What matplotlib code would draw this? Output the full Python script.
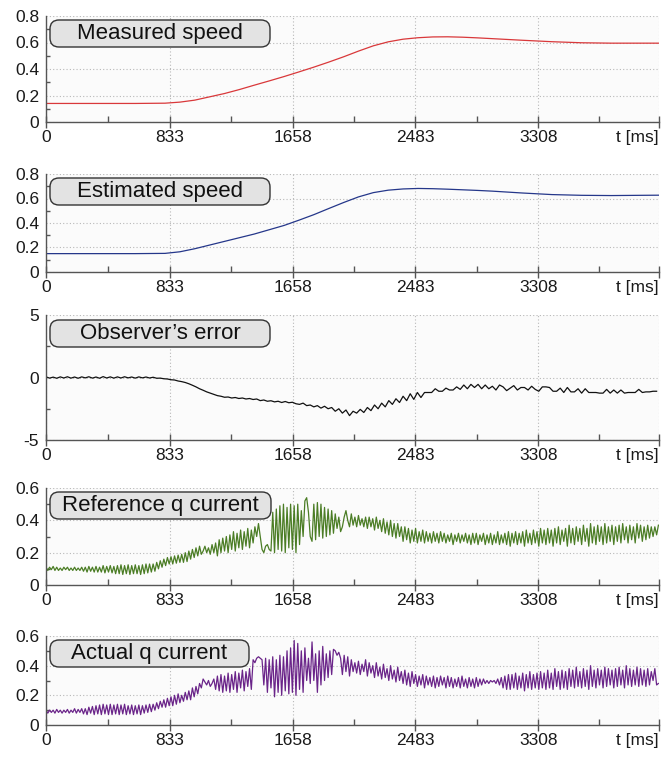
import numpy as np
import matplotlib
matplotlib.use("Agg")
import matplotlib.pyplot as plt
from matplotlib.patches import FancyBboxPatch
from matplotlib.transforms import IdentityTransform

# speeds, read every ~100-200 ms
speed_t = [0, 200, 400, 600, 800, 900, 1000, 1100, 1200, 1300, 1400, 1500, 1600,
           1700, 1800, 1900, 2000, 2100, 2200, 2300, 2400, 2500, 2600, 2700, 2800,
           2900, 3000, 3200, 3400, 3600, 3800, 4000, 4120]
measured_speed = [0.14, 0.14, 0.14, 0.14, 0.142, 0.15, 0.165, 0.19, 0.215, 0.245, 0.278,
                  0.31, 0.343, 0.378, 0.414, 0.452, 0.492, 0.535, 0.575, 0.605, 0.625, 0.636,
                  0.642, 0.643, 0.64, 0.635, 0.629, 0.617, 0.606, 0.598, 0.595, 0.595, 0.595]
estimated_speed = [0.15, 0.15, 0.15, 0.15, 0.152, 0.165, 0.19, 0.22, 0.25, 0.28, 0.31,
                   0.345, 0.38, 0.423, 0.468, 0.518, 0.567, 0.613, 0.648, 0.668, 0.678, 0.682,
                   0.68, 0.676, 0.671, 0.666, 0.66, 0.645, 0.632, 0.626, 0.624, 0.626, 0.627]

# observer error, one value every 24 ms
error_dt = 24
observer_error = [
    0.05, -0.05, 0.03, -0.06, 0.05, -0.04, 0.06, -0.05, 0.04, -0.06, 0.05, -0.03, 0.06, -0.05, 0.04, -0.06, 0.07, -0.04, 0.05, -0.05,
    0.05, -0.04, 0.06, -0.03, 0.04, -0.05, 0.05, -0.03, 0.04, -0.04, 0.02, -0.06, -0.05, -0.1, -0.12, -0.18, -0.2, -0.28, -0.33, -0.4,
    -0.5, -0.62, -0.75, -0.9, -1.02, -1.15, -1.25, -1.35, -1.45, -1.5, -1.58, -1.56, -1.64, -1.6, -1.68, -1.64, -1.72, -1.68, -1.76, -1.72,
    -1.85, -1.8, -1.9, -1.86, -1.95, -1.9, -2.0, -1.92, -2.02, -1.98, -2.1, -2.15, -2.05, -2.25, -2.2, -2.35, -2.25, -2.45, -2.3, -2.5,
    -2.4, -2.7, -2.5, -2.85, -2.6, -3.05, -2.7, -2.85, -2.55, -2.8, -2.4, -2.65, -2.2, -2.5, -2.05, -2.35, -1.85, -2.15, -1.7, -2.0,
    -1.5, -1.85, -1.3, -1.75, -1.2, -1.6, -1.2, -1.2, -1.2, -0.9, -1.1, -1.1, -0.85, -1.0, -1.0, -0.75, -0.95, -0.6, -0.9, -0.55,
    -0.8, -0.55, -0.9, -0.6, -0.9, -0.7, -1.0, -0.6, -0.75, -1.05, -0.85, -0.65, -1.0, -0.8, -0.8, -1.0, -0.7, -0.95, -1.1, -0.75,
    -0.75, -0.8, -1.1, -1.1, -0.85, -1.2, -0.8, -1.15, -1.15, -0.9, -1.25, -0.9, -1.2, -1.2, -1.2, -1.25, -1.25, -0.95, -1.25, -1.0,
    -1.25, -1.0, -1.25, -1.2, -1.2, -1.2, -0.95, -1.2, -1.15, -1.15, -1.1, -1.1,
]

# q currents, one value every 12 ms
current_dt = 12
reference_q = [
    0.11, 0.09, 0.11, 0.095, 0.115, 0.09, 0.11, 0.09, 0.105, 0.09, 0.11, 0.095, 0.11, 0.09, 0.105, 0.09, 0.11, 0.09, 0.105, 0.09,
    0.11, 0.085, 0.11, 0.08, 0.115, 0.085, 0.11, 0.08, 0.115, 0.08, 0.11, 0.08, 0.12, 0.075, 0.115, 0.08, 0.12, 0.075, 0.115, 0.07,
    0.12, 0.07, 0.125, 0.065, 0.12, 0.07, 0.125, 0.065, 0.12, 0.07, 0.125, 0.07, 0.12, 0.065, 0.125, 0.07, 0.13, 0.075, 0.13, 0.08,
    0.13, 0.085, 0.14, 0.1, 0.15, 0.11, 0.16, 0.12, 0.17, 0.13, 0.175, 0.13, 0.18, 0.135, 0.185, 0.14, 0.19, 0.14, 0.2, 0.145,
    0.21, 0.16, 0.22, 0.17, 0.23, 0.18, 0.24, 0.19, 0.21, 0.24, 0.2, 0.23, 0.19, 0.25, 0.2, 0.26, 0.18, 0.28, 0.2, 0.29,
    0.21, 0.3, 0.2, 0.31, 0.22, 0.33, 0.21, 0.32, 0.23, 0.34, 0.22, 0.33, 0.24, 0.35, 0.23, 0.34, 0.26, 0.36, 0.3, 0.38,
    0.3, 0.22, 0.2, 0.24, 0.25, 0.22, 0.21, 0.45, 0.2, 0.47, 0.22, 0.49, 0.21, 0.5, 0.2, 0.48, 0.23, 0.5, 0.22, 0.49,
    0.2, 0.5, 0.25, 0.46, 0.3, 0.52, 0.54, 0.45, 0.3, 0.27, 0.5, 0.28, 0.51, 0.3, 0.5, 0.29, 0.48, 0.3, 0.47, 0.31,
    0.46, 0.32, 0.44, 0.35, 0.42, 0.33, 0.36, 0.42, 0.46, 0.4, 0.36, 0.44, 0.37, 0.42, 0.36, 0.43, 0.37, 0.41, 0.36, 0.42,
    0.35, 0.42, 0.36, 0.41, 0.34, 0.42, 0.35, 0.4, 0.33, 0.41, 0.32, 0.39, 0.31, 0.4, 0.3, 0.38, 0.29, 0.38, 0.3, 0.36,
    0.27, 0.36, 0.28, 0.35, 0.26, 0.34, 0.27, 0.35, 0.26, 0.33, 0.27, 0.34, 0.26, 0.33, 0.27, 0.32, 0.26, 0.33, 0.27, 0.32,
    0.26, 0.33, 0.27, 0.32, 0.26, 0.31, 0.27, 0.32, 0.25, 0.31, 0.27, 0.32, 0.26, 0.31, 0.27, 0.32, 0.26, 0.31, 0.25, 0.32,
    0.26, 0.32, 0.25, 0.31, 0.27, 0.32, 0.25, 0.31, 0.26, 0.32, 0.25, 0.31, 0.26, 0.33, 0.25, 0.31, 0.26, 0.32, 0.25, 0.33,
    0.24, 0.32, 0.26, 0.33, 0.25, 0.32, 0.26, 0.33, 0.24, 0.34, 0.26, 0.32, 0.25, 0.34, 0.26, 0.33, 0.24, 0.35, 0.26, 0.34,
    0.25, 0.35, 0.26, 0.34, 0.24, 0.35, 0.26, 0.36, 0.25, 0.34, 0.27, 0.35, 0.24, 0.37, 0.26, 0.35, 0.25, 0.36, 0.27, 0.35,
    0.25, 0.37, 0.27, 0.35, 0.24, 0.38, 0.26, 0.36, 0.25, 0.37, 0.27, 0.36, 0.25, 0.38, 0.26, 0.36, 0.27, 0.37, 0.25, 0.36,
    0.27, 0.37, 0.26, 0.38, 0.28, 0.36, 0.26, 0.37, 0.28, 0.36, 0.26, 0.38, 0.29, 0.37, 0.27, 0.36, 0.28, 0.37, 0.29, 0.36,
    0.3, 0.36, 0.31, 0.37,
]
actual_q = [
    0.1, 0.08, 0.1, 0.085, 0.1, 0.08, 0.105, 0.085, 0.1, 0.08, 0.1, 0.085, 0.105, 0.08, 0.1, 0.085, 0.11, 0.08, 0.105, 0.085,
    0.11, 0.075, 0.11, 0.07, 0.12, 0.08, 0.125, 0.07, 0.13, 0.075, 0.135, 0.07, 0.14, 0.075, 0.135, 0.07, 0.14, 0.07, 0.135, 0.075,
    0.14, 0.07, 0.135, 0.075, 0.14, 0.07, 0.13, 0.075, 0.135, 0.07, 0.13, 0.075, 0.135, 0.07, 0.13, 0.08, 0.135, 0.085, 0.14, 0.09,
    0.14, 0.1, 0.15, 0.11, 0.16, 0.12, 0.17, 0.12, 0.18, 0.13, 0.19, 0.13, 0.2, 0.14, 0.21, 0.15, 0.2, 0.16, 0.22, 0.17,
    0.23, 0.17, 0.25, 0.19, 0.26, 0.21, 0.28, 0.25, 0.31, 0.29, 0.27, 0.3, 0.26, 0.28, 0.31, 0.24, 0.33, 0.23, 0.34, 0.22,
    0.33, 0.23, 0.35, 0.22, 0.34, 0.24, 0.36, 0.22, 0.35, 0.25, 0.37, 0.23, 0.36, 0.26, 0.38, 0.24, 0.44, 0.42, 0.45, 0.46,
    0.45, 0.44, 0.27, 0.45, 0.22, 0.44, 0.25, 0.46, 0.19, 0.44, 0.22, 0.47, 0.2, 0.46, 0.23, 0.5, 0.21, 0.52, 0.22, 0.57,
    0.2, 0.55, 0.24, 0.5, 0.22, 0.52, 0.3, 0.45, 0.28, 0.56, 0.3, 0.48, 0.22, 0.5, 0.27, 0.53, 0.3, 0.48, 0.32, 0.5,
    0.34, 0.51, 0.5, 0.47, 0.49, 0.45, 0.34, 0.47, 0.36, 0.46, 0.33, 0.44, 0.36, 0.42, 0.35, 0.43, 0.34, 0.41, 0.36, 0.44,
    0.33, 0.42, 0.35, 0.4, 0.32, 0.42, 0.33, 0.39, 0.31, 0.41, 0.32, 0.38, 0.3, 0.4, 0.31, 0.37, 0.29, 0.39, 0.3, 0.36,
    0.28, 0.37, 0.27, 0.35, 0.26, 0.36, 0.28, 0.34, 0.26, 0.33, 0.27, 0.34, 0.25, 0.33, 0.27, 0.32, 0.26, 0.33, 0.25, 0.32,
    0.26, 0.33, 0.27, 0.32, 0.25, 0.33, 0.26, 0.32, 0.25, 0.31, 0.26, 0.32, 0.25, 0.33, 0.26, 0.31, 0.25, 0.32, 0.26, 0.31,
    0.25, 0.32, 0.26, 0.31, 0.27, 0.31, 0.28, 0.3, 0.28, 0.3, 0.29, 0.3, 0.28, 0.31, 0.27, 0.32, 0.25, 0.33, 0.24, 0.34,
    0.24, 0.34, 0.25, 0.35, 0.24, 0.33, 0.25, 0.35, 0.23, 0.34, 0.25, 0.36, 0.24, 0.34, 0.25, 0.35, 0.24, 0.36, 0.25, 0.35,
    0.24, 0.37, 0.25, 0.35, 0.24, 0.38, 0.26, 0.36, 0.24, 0.37, 0.25, 0.36, 0.24, 0.38, 0.26, 0.37, 0.25, 0.39, 0.26, 0.36,
    0.25, 0.38, 0.26, 0.37, 0.24, 0.4, 0.26, 0.37, 0.25, 0.38, 0.27, 0.37, 0.25, 0.39, 0.26, 0.38, 0.27, 0.37, 0.25, 0.38,
    0.26, 0.39, 0.27, 0.37, 0.25, 0.4, 0.27, 0.38, 0.26, 0.37, 0.27, 0.39, 0.26, 0.38, 0.27, 0.37, 0.26, 0.38, 0.27, 0.36,
    0.3, 0.38, 0.27, 0.28,
]

x_ticks = [0, 833, 1658, 2483, 3308, 4120]
x_labels = ["0", "833", "1658", "2483", "3308", "t [ms]"]
x_minor = [416, 1245, 2070, 2895, 3714]
x_end = 4120

labels = ["Measured speed", "Estimated speed", "Observer\u2019s error",
          "Reference q current", "Actual q current"]

W, H = 672, 758
fig = plt.figure(figsize=(W / 100, H / 100), dpi=100)
fig.patch.set_facecolor("white")

tick_font = ["Liberation Sans", "DejaVu Sans"]
box_font = ["Liberation Sans", "DejaVu Sans"]

# (top px, bottom px, box top px, box right px)
layout = [(16, 122, 20, 270), (174, 272, 178, 270), (315, 440, 320, 270),
          (488, 585, 492, 271), (636, 725, 640, 249)]
left_px, right_px = 46, 659

t_speed = np.array(speed_t)
t_err = np.arange(len(observer_error)) * error_dt
t_cur = np.arange(len(reference_q)) * current_dt
t_act = np.arange(len(actual_q)) * current_dt

series = [
    (t_speed, measured_speed, "#d9383a", (0, 0.8), [0, 0.2, 0.4, 0.6, 0.8],
     ["0", "0.2", "0.4", "0.6", "0.8"], [0.1, 0.3, 0.5, 0.7]),
    (t_speed, estimated_speed, "#25378a", (0, 0.8), [0, 0.2, 0.4, 0.6, 0.8],
     ["0", "0.2", "0.4", "0.6", "0.8"], [0.1, 0.3, 0.5, 0.7]),
    (t_err, observer_error, "#111111", (-5, 5), [-5, 0, 5],
     ["-5", "0", "5"], [-2.5, 2.5]),
    (t_cur, reference_q, "#4b7d25", (0, 0.6), [0, 0.2, 0.4, 0.6],
     ["0", "0.2", "0.4", "0.6"], [0.1, 0.3, 0.5]),
    (t_act, actual_q, "#6a2489", (0, 0.6), [0, 0.2, 0.4, 0.6],
     ["0", "0.2", "0.4", "0.6"], [0.1, 0.3, 0.5]),
]

for (top, bot, btop, bright), (tx, vals, col, ylim, yt, ytl, ymin), lab in zip(layout, series, labels):
    ax = fig.add_axes([left_px / W, 1 - bot / H, (right_px - left_px) / W, (bot - top) / H])
    ax.set_facecolor("#fbfbfb")
    ax.plot(tx, vals, color=col, lw=0.9)
    ax.set_xlim(0, x_end)
    ax.set_ylim(*ylim)
    ax.set_xticks(x_ticks)
    ax.set_xticklabels(x_labels)
    ax.set_xticks(x_minor, minor=True)
    ax.set_yticks(yt)
    ax.set_yticklabels(ytl)
    ax.set_yticks(ymin, minor=True)
    ax.grid(True, which="major", ls=(0, (1, 2)), color="#b8b8b8", lw=0.8)
    for s in ["top", "right"]:
        ax.spines[s].set_visible(False)
    for s in ["left", "bottom"]:
        ax.spines[s].set_color("#555555")
        ax.spines[s].set_linewidth(1.0)
    ax.tick_params(axis="x", which="major", direction="inout", length=9, width=1,
                   color="#555555", pad=1, labelsize=12.5, labelcolor="#1a1a1a")
    ax.tick_params(axis="x", which="minor", direction="in", length=4, width=1, color="#555555")
    ax.tick_params(axis="y", which="major", direction="in", length=0, pad=5,
                   labelsize=12.5, labelcolor="#1a1a1a")
    ax.tick_params(axis="y", which="minor", direction="in", length=3, width=1, color="#555555")
    for tl in ax.get_xticklabels() + ax.get_yticklabels():
        tl.set_family(tick_font)
    ax.get_xticklabels()[-1].set_ha("right")
    ax.set_axisbelow(True)

    # rounded label box
    x0, x1 = 50, bright
    y0, y1 = btop, btop + 27
    box = FancyBboxPatch((x0, H - y1), x1 - x0, y1 - y0,
                         boxstyle="round,pad=0,rounding_size=9",
                         transform=IdentityTransform(), facecolor="#e3e3e3",
                         edgecolor="#333333", lw=1.0, zorder=5)
    fig.patches.append(box)
    fig.text((x0 + x1) / 2 / W, 1 - (y0 + y1) / 2 / H, lab, ha="center", va="center",
             fontsize=16, family=box_font, color="#111111", zorder=6)

fig.savefig("out.png", dpi=100)
